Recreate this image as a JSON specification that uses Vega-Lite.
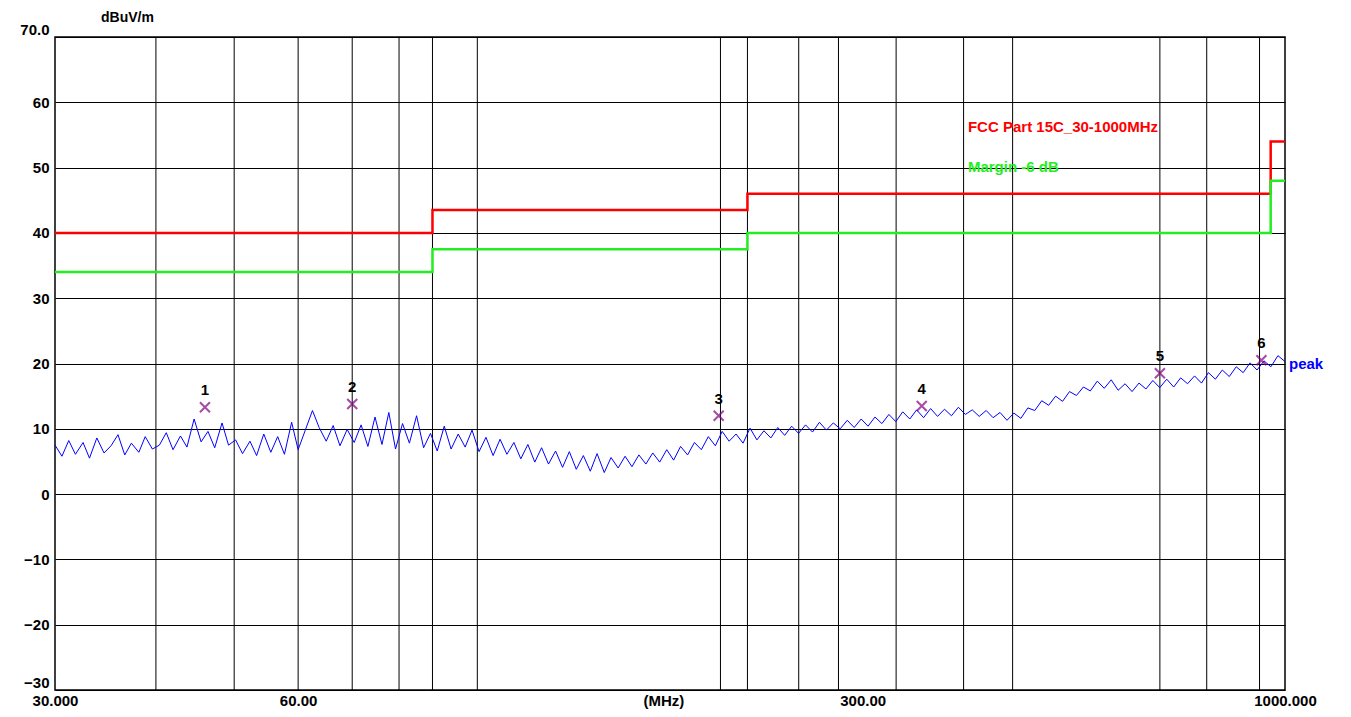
{
  "$schema": "https://vega.github.io/schema/vega-lite/v6.json",
  "width": 1230,
  "height": 653,
  "autosize": "none",
  "padding": {"left": 55, "top": 37, "right": 66, "bottom": 27},
  "background": "white",
  "config": {
    "view": {"stroke": "black", "strokeWidth": 1.5},
    "font": "Liberation Sans"
  },
  "datasets": {
    "trace": [
      {"f":30,"v":7.5},{"f":30.6,"v":5.8},{"f":31.2,"v":8.2},{"f":31.8,"v":6.1},{"f":32.5,"v":7.9},{"f":33.1,"v":5.5},{"f":33.8,"v":8.6},{"f":34.5,"v":6.3},{"f":35.2,"v":7.4},{"f":35.9,"v":9.1},{"f":36.6,"v":6.0},{"f":37.3,"v":7.8},{"f":38.1,"v":6.4},{"f":38.8,"v":8.8},{"f":39.6,"v":6.9},{"f":40.4,"v":7.5},{"f":41.2,"v":9.4},{"f":42,"v":6.8},{"f":42.9,"v":8.9},{"f":43.7,"v":7.2},{"f":44.6,"v":11.5},{"f":45.5,"v":8.0},{"f":46.4,"v":9.6},{"f":47.3,"v":7.1},{"f":48.3,"v":10.9},{"f":49.2,"v":7.5},{"f":50.2,"v":8.3},{"f":51.2,"v":6.2},{"f":52.3,"v":8.1},{"f":53.3,"v":5.9},{"f":54.4,"v":9.2},{"f":55.5,"v":6.4},{"f":56.6,"v":8.8},{"f":57.7,"v":6.1},{"f":58.9,"v":11.0},{"f":60,"v":6.8},{"f":61.2,"v":9.7},{"f":62.5,"v":12.8},{"f":63.7,"v":10.2},{"f":65,"v":8.1},{"f":66.3,"v":10.5},{"f":67.6,"v":7.4},{"f":69,"v":9.9},{"f":70.4,"v":7.9},{"f":71.8,"v":10.6},{"f":73.2,"v":7.3},{"f":74.7,"v":11.8},{"f":76.2,"v":7.6},{"f":77.7,"v":12.5},{"f":79.2,"v":6.9},{"f":80.8,"v":10.8},{"f":82.4,"v":7.8},{"f":84.1,"v":12.0},{"f":85.8,"v":7.1},{"f":87.5,"v":9.3},{"f":89.2,"v":6.6},{"f":91,"v":10.4},{"f":92.8,"v":6.9},{"f":94.7,"v":9.2},{"f":96.6,"v":7.2},{"f":98.5,"v":9.8},{"f":100.5,"v":6.5},{"f":102.5,"v":8.7},{"f":104.6,"v":5.9},{"f":106.7,"v":8.4},{"f":108.8,"v":6.1},{"f":111,"v":7.9},{"f":113.2,"v":5.4},{"f":115.5,"v":7.6},{"f":117.8,"v":4.9},{"f":120.1,"v":7.1},{"f":122.5,"v":4.6},{"f":125,"v":6.6},{"f":127.5,"v":4.1},{"f":130,"v":6.5},{"f":132.6,"v":3.8},{"f":135.3,"v":5.9},{"f":138,"v":3.5},{"f":140.7,"v":6.2},{"f":143.6,"v":3.3},{"f":146.4,"v":5.6},{"f":149.4,"v":4.0},{"f":152.4,"v":5.8},{"f":155.4,"v":4.2},{"f":158.5,"v":6.0},{"f":161.7,"v":4.6},{"f":164.9,"v":6.3},{"f":168.2,"v":4.9},{"f":171.6,"v":6.8},{"f":175,"v":5.2},{"f":178.5,"v":7.3},{"f":182.1,"v":6.0},{"f":185.7,"v":7.9},{"f":189.4,"v":6.8},{"f":193.2,"v":8.8},{"f":197.1,"v":7.4},{"f":201,"v":9.6},{"f":205,"v":8.1},{"f":209.1,"v":9.2},{"f":213.3,"v":7.8},{"f":217.6,"v":10.1},{"f":221.9,"v":8.3},{"f":226.4,"v":9.7},{"f":230.9,"v":8.6},{"f":235.5,"v":10.2},{"f":240.2,"v":9.0},{"f":245,"v":10.4},{"f":249.9,"v":9.3},{"f":254.9,"v":10.6},{"f":260,"v":9.5},{"f":265.2,"v":11.0},{"f":270.5,"v":9.8},{"f":275.9,"v":10.9},{"f":281.4,"v":10.0},{"f":287.1,"v":11.3},{"f":292.8,"v":10.2},{"f":298.7,"v":11.5},{"f":304.6,"v":10.4},{"f":310.7,"v":11.8},{"f":316.9,"v":10.8},{"f":323.3,"v":12.2},{"f":329.7,"v":11.1},{"f":336.3,"v":12.6},{"f":343.1,"v":11.5},{"f":349.9,"v":12.9},{"f":356.9,"v":11.7},{"f":364.1,"v":13.1},{"f":371.4,"v":11.9},{"f":378.8,"v":13.0},{"f":386.4,"v":12.0},{"f":394.1,"v":13.3},{"f":402,"v":12.2},{"f":410,"v":12.9},{"f":418.2,"v":11.9},{"f":426.6,"v":12.8},{"f":435.1,"v":11.7},{"f":443.8,"v":12.5},{"f":452.7,"v":11.3},{"f":461.7,"v":12.4},{"f":471,"v":11.6},{"f":480.4,"v":13.2},{"f":490,"v":12.8},{"f":499.8,"v":14.3},{"f":509.8,"v":13.6},{"f":520,"v":15.0},{"f":530.4,"v":14.2},{"f":541,"v":15.7},{"f":551.8,"v":15.1},{"f":562.9,"v":16.4},{"f":574.1,"v":15.8},{"f":585.6,"v":17.3},{"f":597.3,"v":16.2},{"f":609.3,"v":17.5},{"f":621.4,"v":15.9},{"f":633.9,"v":16.9},{"f":646.6,"v":15.7},{"f":659.5,"v":17.0},{"f":672.7,"v":16.1},{"f":686.1,"v":17.4},{"f":699.8,"v":16.3},{"f":713.8,"v":17.6},{"f":728.1,"v":16.4},{"f":742.7,"v":17.8},{"f":757.5,"v":16.9},{"f":772.7,"v":18.1},{"f":788.1,"v":17.0},{"f":803.9,"v":18.6},{"f":820,"v":17.6},{"f":836.4,"v":19.0},{"f":853.1,"v":18.0},{"f":870.2,"v":19.5},{"f":887.6,"v":18.6},{"f":905.3,"v":20.1},{"f":923.4,"v":19.0},{"f":941.9,"v":20.4},{"f":960.7,"v":19.5},{"f":980,"v":21.2},{"f":1000,"v":20.3}
    ],
    "limits": [
      {"f":30,"v":40,"s":"limit"},{"f":88,"v":43.5,"s":"limit"},{"f":216,"v":46,"s":"limit"},{"f":960,"v":54,"s":"limit"},{"f":1000,"v":54,"s":"limit"},
      {"f":30,"v":34,"s":"margin"},{"f":88,"v":37.5,"s":"margin"},{"f":216,"v":40,"s":"margin"},{"f":960,"v":48,"s":"margin"},{"f":1000,"v":48,"s":"margin"}
    ],
    "grid": [
      {"f":40},{"f":50},{"f":60},{"f":70},{"f":80},{"f":88},{"f":100},{"f":200},{"f":216},{"f":250},{"f":280},{"f":330},{"f":400},{"f":460},{"f":700},{"f":800},{"f":930}
    ],
    "markers": [
      {"f":46,"v":13.3,"n":"1"},{"f":70,"v":13.8,"n":"2"},{"f":199,"v":12,"n":"3"},{"f":355,"v":13.5,"n":"4"},{"f":700,"v":18.5,"n":"5"},{"f":935,"v":20.5,"n":"6"}
    ],
    "notes": [
      {"f":405,"v":56.2,"t":"FCC Part 15C_30-1000MHz","c":"red"},
      {"f":405,"v":50.1,"t":"Margin -6 dB","c":"green"}
    ]
  },
  "layer": [
    {
      "data": {"name": "grid"},
      "mark": {"type": "rule", "color": "black", "strokeWidth": 1},
      "encoding": {
        "x": {"field": "f", "type": "quantitative", "scale": {"type": "log", "domain": [30, 1000], "nice": false},
          "axis": {"values": [30, 60, 170, 300, 1000], "grid": false, "ticks": false, "domain": false, "title": null,
            "labelExpr": "datum.value == 30 ? '30.000' : datum.value == 60 ? '60.00' : datum.value == 170 ? '(MHz)' : datum.value == 300 ? '300.00' : '1000.000'",
            "labelFont": "Liberation Sans", "labelFontWeight": "bold", "labelFontSize": 15, "labelColor": "black", "labelPadding": 3, "labelFlush": false}}
      }
    },
    {
      "data": {"name": "limits"},
      "mark": {"type": "line", "interpolate": "step-after", "strokeWidth": 2.5},
      "encoding": {
        "x": {"field": "f", "type": "quantitative"},
        "y": {"field": "v", "type": "quantitative", "scale": {"domain": [-30, 70], "nice": false},
          "axis": {"values": [-30, -20, -10, 0, 10, 20, 30, 40, 50, 60, 70], "gridColor": "black", "gridOpacity": 1, "ticks": false, "domain": false,
            "labelExpr": "datum.value == 70 ? '70.0' : datum.label", "labelFont": "Liberation Sans", "labelFontWeight": "bold", "labelFontSize": 15, "labelColor": "black", "labelAlign": "right", "labelPadding": 6, "labelFlush": false,
            "labelBaseline": {"condition": {"test": "datum.value == -30 || datum.value == 70", "value": "bottom"}, "value": "middle"},
            "title": "dBuV/m", "titleAngle": 0, "titleX": 72, "titleY": -13, "titleFontSize": 14, "titleFont": "Liberation Sans", "titleFontWeight": "bold", "titleColor": "black"}},
        "color": {"field": "s", "type": "nominal", "scale": {"domain": ["limit", "margin"], "range": ["#ff0000", "#22ee22"]}, "legend": null}
      }
    },
    {
      "data": {"name": "trace"},
      "mark": {"type": "line", "color": "#0000ff", "strokeWidth": 1},
      "encoding": {"x": {"field": "f", "type": "quantitative"}, "y": {"field": "v", "type": "quantitative"}}
    },
    {
      "data": {"name": "markers"},
      "mark": {"type": "point", "shape": "M-1,-1L1,1M-1,1L1,-1", "color": "#800080", "filled": false, "strokeWidth": 2, "size": 100},
      "encoding": {"x": {"field": "f", "type": "quantitative"}, "y": {"field": "v", "type": "quantitative"}}
    },
    {
      "data": {"name": "markers"},
      "mark": {"type": "text", "dy": -17, "fontWeight": "bold", "fontSize": 15, "color": "black"},
      "encoding": {"x": {"field": "f", "type": "quantitative"}, "y": {"field": "v", "type": "quantitative"}, "text": {"field": "n"}}
    },
    {
      "data": {"values": [{"f": 1000, "v": 20, "t": "peak"}]},
      "mark": {"type": "text", "align": "left", "dx": 4, "fontWeight": "bold", "fontSize": 15, "color": "#0000ff"},
      "encoding": {"x": {"field": "f", "type": "quantitative"}, "y": {"field": "v", "type": "quantitative"}, "text": {"field": "t"}}
    },
    {
      "data": {"name": "notes"},
      "mark": {"type": "text", "align": "left", "fontWeight": "bold", "fontSize": 15},
      "encoding": {"x": {"field": "f", "type": "quantitative"}, "y": {"field": "v", "type": "quantitative"}, "text": {"field": "t"},
        "color": {"field": "c", "type": "nominal", "scale": {"domain": ["red", "green"], "range": ["#ff0000", "#22ee22"]}, "legend": null}}
    }
  ]
}
